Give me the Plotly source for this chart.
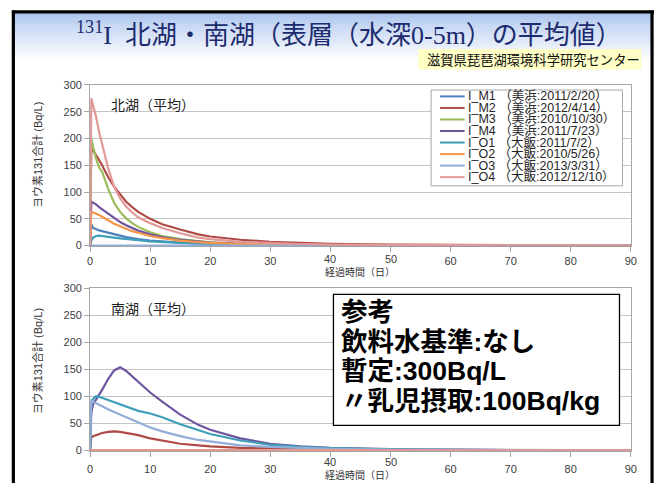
import plotly.graph_objects as go

# ---------------- data ----------------
days = [0, 0.2, 0.5, 1, 1.5, 2, 3, 4, 5, 6, 7, 8, 10, 12, 15, 18, 20, 25, 30, 35, 40, 50, 60, 70, 80, 90]

series_names = [
    "I_M1 （美浜:2011/2/20）",
    "I_M2 （美浜:2012/4/14）",
    "I_M3 （美浜:2010/10/30）",
    "I_M4 （美浜:2011/7/23）",
    "I_O1 （大飯:2011/7/2）",
    "I_O2 （大飯:2010/5/26）",
    "I_O3 （大飯:2013/3/31）",
    "I_O4 （大飯:2012/12/10）",
]
series_colors = ["#4f81bd", "#b04a47", "#9bbb59", "#6f55a0",
                 "#3e9fb8", "#f79646", "#93acd8", "#e29896"]

# 北湖（平均）
north_M1 = [0, 40, 33, 30, 28.5, 27, 24, 21, 18, 16, 14, 12, 9.5, 7.5, 5.5, 4, 3.2, 2, 1.4, 1, 0.7, 0.4, 0.2, 0.1, 0.1, 0]
north_M2 = [0, 182, 178, 170, 160, 150, 128, 110, 95, 82, 72, 63, 50, 40, 30, 21, 17, 11, 7, 5, 3.5, 2, 1, 0.5, 0.3, 0.2]
north_M3 = [0, 200, 185, 162, 146, 138, 106, 80, 63, 51, 42, 35, 25, 18, 12, 8, 6, 3.5, 2, 1.5, 1, 0.5, 0.3, 0.2, 0.1, 0]
north_M4 = [0, 82, 80, 77, 72, 68, 59, 51, 44, 38, 33, 28, 21, 16, 11, 7, 5.5, 3.5, 2.2, 1.5, 1, 0.5, 0.3, 0.2, 0.1, 0]
north_O1 = [0, 9, 15, 18, 18.5, 18, 16.5, 15, 13.5, 12, 11, 10, 8, 6.5, 5, 3.5, 3, 2, 1.3, 1, 0.6, 0.3, 0.2, 0.1, 0, 0]
north_O2 = [0, 63, 62, 60, 57, 54, 47, 41, 36, 31, 27, 24, 18, 14, 9.5, 6.5, 5, 3, 2, 1.3, 0.9, 0.5, 0.3, 0.2, 0.1, 0]
north_O3 = [0, 0, 0, 0, 0, 0, 0, 0, 0, 0, 0, 0, 0, 0, 0, 0, 0, 0, 0, 0, 0, 0, 0, 0, 0, 0]
north_O4 = [0, 275, 262, 240, 212, 190, 145, 110, 88, 73, 62, 53, 42, 33, 23, 15, 12, 7, 4.5, 3, 2, 1.2, 0.7, 0.4, 0.2, 0.1]

# 南湖（平均）
south_M1 = [0, 0, 0, 0, 0, 0, 0, 0, 0, 0, 0, 0, 0, 0, 0, 0, 0, 0, 0, 0, 0, 0, 0, 0, 0, 0]
south_M2 = [0, 24, 26, 28, 30, 32, 34, 35, 34, 32, 30, 28, 22, 18, 12, 9, 7, 4.5, 3, 2, 1.2, 0.6, 0.3, 0.2, 0.1, 0]
south_M3 = [0, 0, 0, 0, 0, 0, 0, 0, 0, 0, 0, 0, 0, 0, 0, 0, 0, 0, 0, 0, 0, 0, 0, 0, 0, 0]
south_M4 = [0, 70, 85, 95, 103, 112, 132, 148, 154, 147, 137, 128, 107, 90, 66, 47, 38, 22, 12, 7, 4.5, 2, 0.8, 0.4, 0.2, 0.1]
south_O1 = [0, 88, 95, 100, 99, 97, 93, 89, 85, 81, 77, 73, 68, 61, 48, 37, 30, 18, 10, 6, 4, 1.8, 0.8, 0.4, 0.2, 0.1]
south_O2 = [0, 0, 0, 0, 0, 0, 0, 0, 0, 0, 0, 0, 0, 0, 0, 0, 0, 0, 0, 0, 0, 0, 0, 0, 0, 0]
south_O3 = [0, 92, 90, 87, 84, 81, 76, 71, 66, 61, 56, 51, 42, 35, 26, 19, 16, 9, 6, 4, 2.5, 1.2, 0.5, 0.3, 0.1, 0]
south_O4 = [0, 0, 0, 0, 0, 0, 0, 0, 0, 0, 0, 0, 0, 0, 0, 0, 0, 0, 0, 0, 0, 0, 0, 0, 0, 0]

north_values = [north_M1, north_M2, north_M3, north_M4, north_O1, north_O2, north_O3, north_O4]
south_values = [south_M1, south_M2, south_M3, south_M4, south_O1, south_O2, south_O3, south_O4]

x_ticks = [0, 10, 20, 30, 40, 50, 60, 70, 80, 90]
x_raised = [40, 50]   # tick labels lifted above the axis title, as in the reference
y_ticks = [0, 50, 100, 150, 200, 250, 300]

title_text = ('<span style="font-family:Liberation Serif"><sup>131</sup>I</span>\u2002'
              '北湖・南湖（表層（水深<span style="font-family:Liberation Serif">0-5m</span>）の平均値）')
org_text = "滋賀県琵琶湖環境科学研究センター"
ytitle_text = "ヨウ素131合計 (Bq/L)"
xtitle_text = "経過時間（日）"
north_label = "北湖（平均）"
south_label = "南湖（平均）"
note_lines = ["参考", "飲料水基準:なし", "暫定:300Bq/L", "〃乳児摂取:100Bq/kg"]

# ---------------- layout helpers ----------------
W, H = 661, 488
def px(x):
    return x / W
def py(y):
    return 1 - y / H

LAT = "Liberation Sans, Noto Sans CJK JP, sans-serif"
CJK = "Noto Sans CJK JP, sans-serif"

fig = go.Figure()
for name, color, vals in zip(series_names, series_colors, north_values):
    fig.add_trace(go.Scatter(x=days, y=vals, mode="lines", name=name,
                             line=dict(color=color, width=2.2),
                             xaxis="x", yaxis="y", showlegend=False))
for name, color, vals in zip(series_names, series_colors, south_values):
    fig.add_trace(go.Scatter(x=days, y=vals, mode="lines", name=name,
                             line=dict(color=color, width=2.2),
                             xaxis="x2", yaxis="y2", showlegend=False))

axis_line = "#a6a6a6"
tickfont = dict(family=LAT, size=11, color="#404040")
main_x = [v for v in x_ticks if v not in x_raised]
xcommon = dict(domain=[px(88.3), px(636.5)], range=[0, 90], tickvals=main_x,
               showgrid=False, zeroline=False, showline=True, linecolor=axis_line,
               mirror=True, ticks="outside", ticklen=5, tickcolor=axis_line,
               tickfont=tickfont, layer="below traces", fixedrange=True,
               minor=dict(tickvals=x_raised, ticks="outside", ticklen=5,
                          tickcolor=axis_line, showgrid=False))
ycommon = dict(range=[-1, 300], tickvals=y_ticks, showgrid=True, gridcolor="#c4c4c4",
               zeroline=False, showline=True, linecolor=axis_line, mirror=True,
               ticks="outside", ticklen=5, tickcolor=axis_line, tickfont=tickfont,
               layer="below traces", fixedrange=True)

fig.update_layout(
    width=W, height=H,
    margin=dict(l=0, r=0, t=0, b=0),
    paper_bgcolor="white", plot_bgcolor="white",
    showlegend=False,
    xaxis=dict(xcommon, anchor="y"),
    yaxis=dict(ycommon, domain=[py(245.7), py(80.8)], anchor="x"),
    xaxis2=dict(xcommon, anchor="y2", ticklabelstandoff=3),
    yaxis2=dict(ycommon, domain=[py(455), py(289)], anchor="x2"),
)

shapes = []
annotations = []

# title gradient band
top, bottom = 7, 58
n = 26
c0 = (170, 195, 238)
for i in range(n):
    t = i / (n - 1)
    t2 = t ** 0.8
    r = int(c0[0] + (255 - c0[0]) * t2)
    g = int(c0[1] + (255 - c0[1]) * t2)
    b = int(c0[2] + (255 - c0[2]) * t2)
    y0 = top + (bottom - top) * i / n
    y1 = top + (bottom - top) * (i + 1) / n + 0.5
    shapes.append(dict(type="rect", xref="paper", yref="paper", layer="below",
                       x0=px(11), x1=px(657), y0=py(y0), y1=py(y1),
                       fillcolor=f"rgb({r},{g},{b})", line=dict(width=0)))

# organisation box
shapes.append(dict(type="rect", xref="paper", yref="paper", layer="below",
                   x0=px(421), x1=px(647), y0=py(44), y1=py(65),
                   fillcolor="#ffffc6", line=dict(width=0)))

# outer black frame (left, top, right edges)
for (xa, ya, xb, yb) in [(10.5, 4.5, 10.5, 488), (9, 6, 660, 6), (658, 4.5, 658, 488)]:
    shapes.append(dict(type="line", xref="paper", yref="paper", layer="above",
                       x0=px(xa), y0=py(ya), x1=px(xb), y1=py(yb),
                       line=dict(color="black", width=3.2)))

annotations.append(dict(text=title_text, xref="paper", yref="paper",
                        x=px(351), y=py(27), xanchor="center", yanchor="middle",
                        showarrow=False, font=dict(family=CJK, size=26, color="#1c2b6e")))
annotations.append(dict(text=org_text, xref="paper", yref="paper",
                        x=px(428), y=py(55), xanchor="left", yanchor="middle",
                        showarrow=False, font=dict(family=CJK, size=13.3, color="#111111")))

# axis titles
for yc in (153, 364):
    annotations.append(dict(text=ytitle_text, xref="paper", yref="paper",
                            x=px(35), y=py(yc), xanchor="center", yanchor="middle",
                            textangle=-90, showarrow=False,
                            font=dict(family=LAT, size=11, color="#333333")))
annotations.append(dict(text=xtitle_text, xref="paper", yref="paper",
                        x=px(362), y=py(272), xanchor="center", yanchor="middle",
                        showarrow=False, font=dict(family=CJK, size=10, color="#333333")))
annotations.append(dict(text=xtitle_text, xref="paper", yref="paper",
                        x=px(362), y=py(479), xanchor="center", yanchor="middle",
                        showarrow=False, font=dict(family=CJK, size=10, color="#333333")))
# raised 40 / 50 tick labels (as in the reference)
for v in x_raised:
    annotations.append(dict(text=str(v), xref="x", yref="paper", x=v, y=py(259),
                            xanchor="center", yanchor="middle", showarrow=False,
                            font=tickfont))
    annotations.append(dict(text=str(v), xref="x2", yref="paper", x=v, y=py(467),
                            xanchor="center", yanchor="middle", showarrow=False,
                            font=tickfont))

# panel labels
annotations.append(dict(text=north_label, xref="paper", yref="paper",
                        x=px(107), y=py(100), xanchor="left", yanchor="middle",
                        showarrow=False, font=dict(family=CJK, size=14, color="#222222")))
annotations.append(dict(text=south_label, xref="paper", yref="paper",
                        x=px(107), y=py(309), xanchor="left", yanchor="middle",
                        showarrow=False, font=dict(family=CJK, size=14, color="#222222")))

# manual legend (top panel)
shapes.append(dict(type="rect", xref="paper", yref="paper", layer="above",
                   x0=px(434), x1=px(628), y0=py(86), y1=py(184),
                   fillcolor="white", line=dict(color="#a6a6a6", width=1)))
for i, (name, color) in enumerate(zip(series_names, series_colors)):
    yy = 92.5 + 11.8 * i
    shapes.append(dict(type="line", xref="paper", yref="paper", layer="above",
                       x0=px(443), x1=px(468), y0=py(yy), y1=py(yy),
                       line=dict(color=color, width=2)))
    annotations.append(dict(text=name, xref="paper", yref="paper",
                            x=px(469), y=py(yy), xanchor="left", yanchor="middle",
                            showarrow=False,
                            font=dict(family=LAT, size=12.5, color="#262626")))

# reference note box (bottom panel)
shapes.append(dict(type="rect", xref="paper", yref="paper", layer="above",
                   x0=px(335), x1=px(625), y0=py(295), y1=py(429),
                   fillcolor="white", line=dict(color="black", width=1.3)))
for i, line in enumerate(note_lines):
    annotations.append(dict(text="<b>" + line + "</b>", xref="paper", yref="paper",
                            x=px(341), y=py(313 + 30.3 * i), xanchor="left", yanchor="middle",
                            showarrow=False,
                            font=dict(family=LAT, size=26.5, color="black")))

fig.update_layout(shapes=shapes, annotations=annotations)
fig.write_html("out.html", config={"displayModeBar": False})

# remove the default page margin so the 661x488 figure fills the window exactly
with open("out.html", encoding="utf-8") as f:
    html = f.read()
html = html.replace("<head>", "<head><style>html,body{margin:0;padding:0;overflow:hidden;}</style>", 1)
with open("out.html", "w", encoding="utf-8") as f:
    f.write(html)
